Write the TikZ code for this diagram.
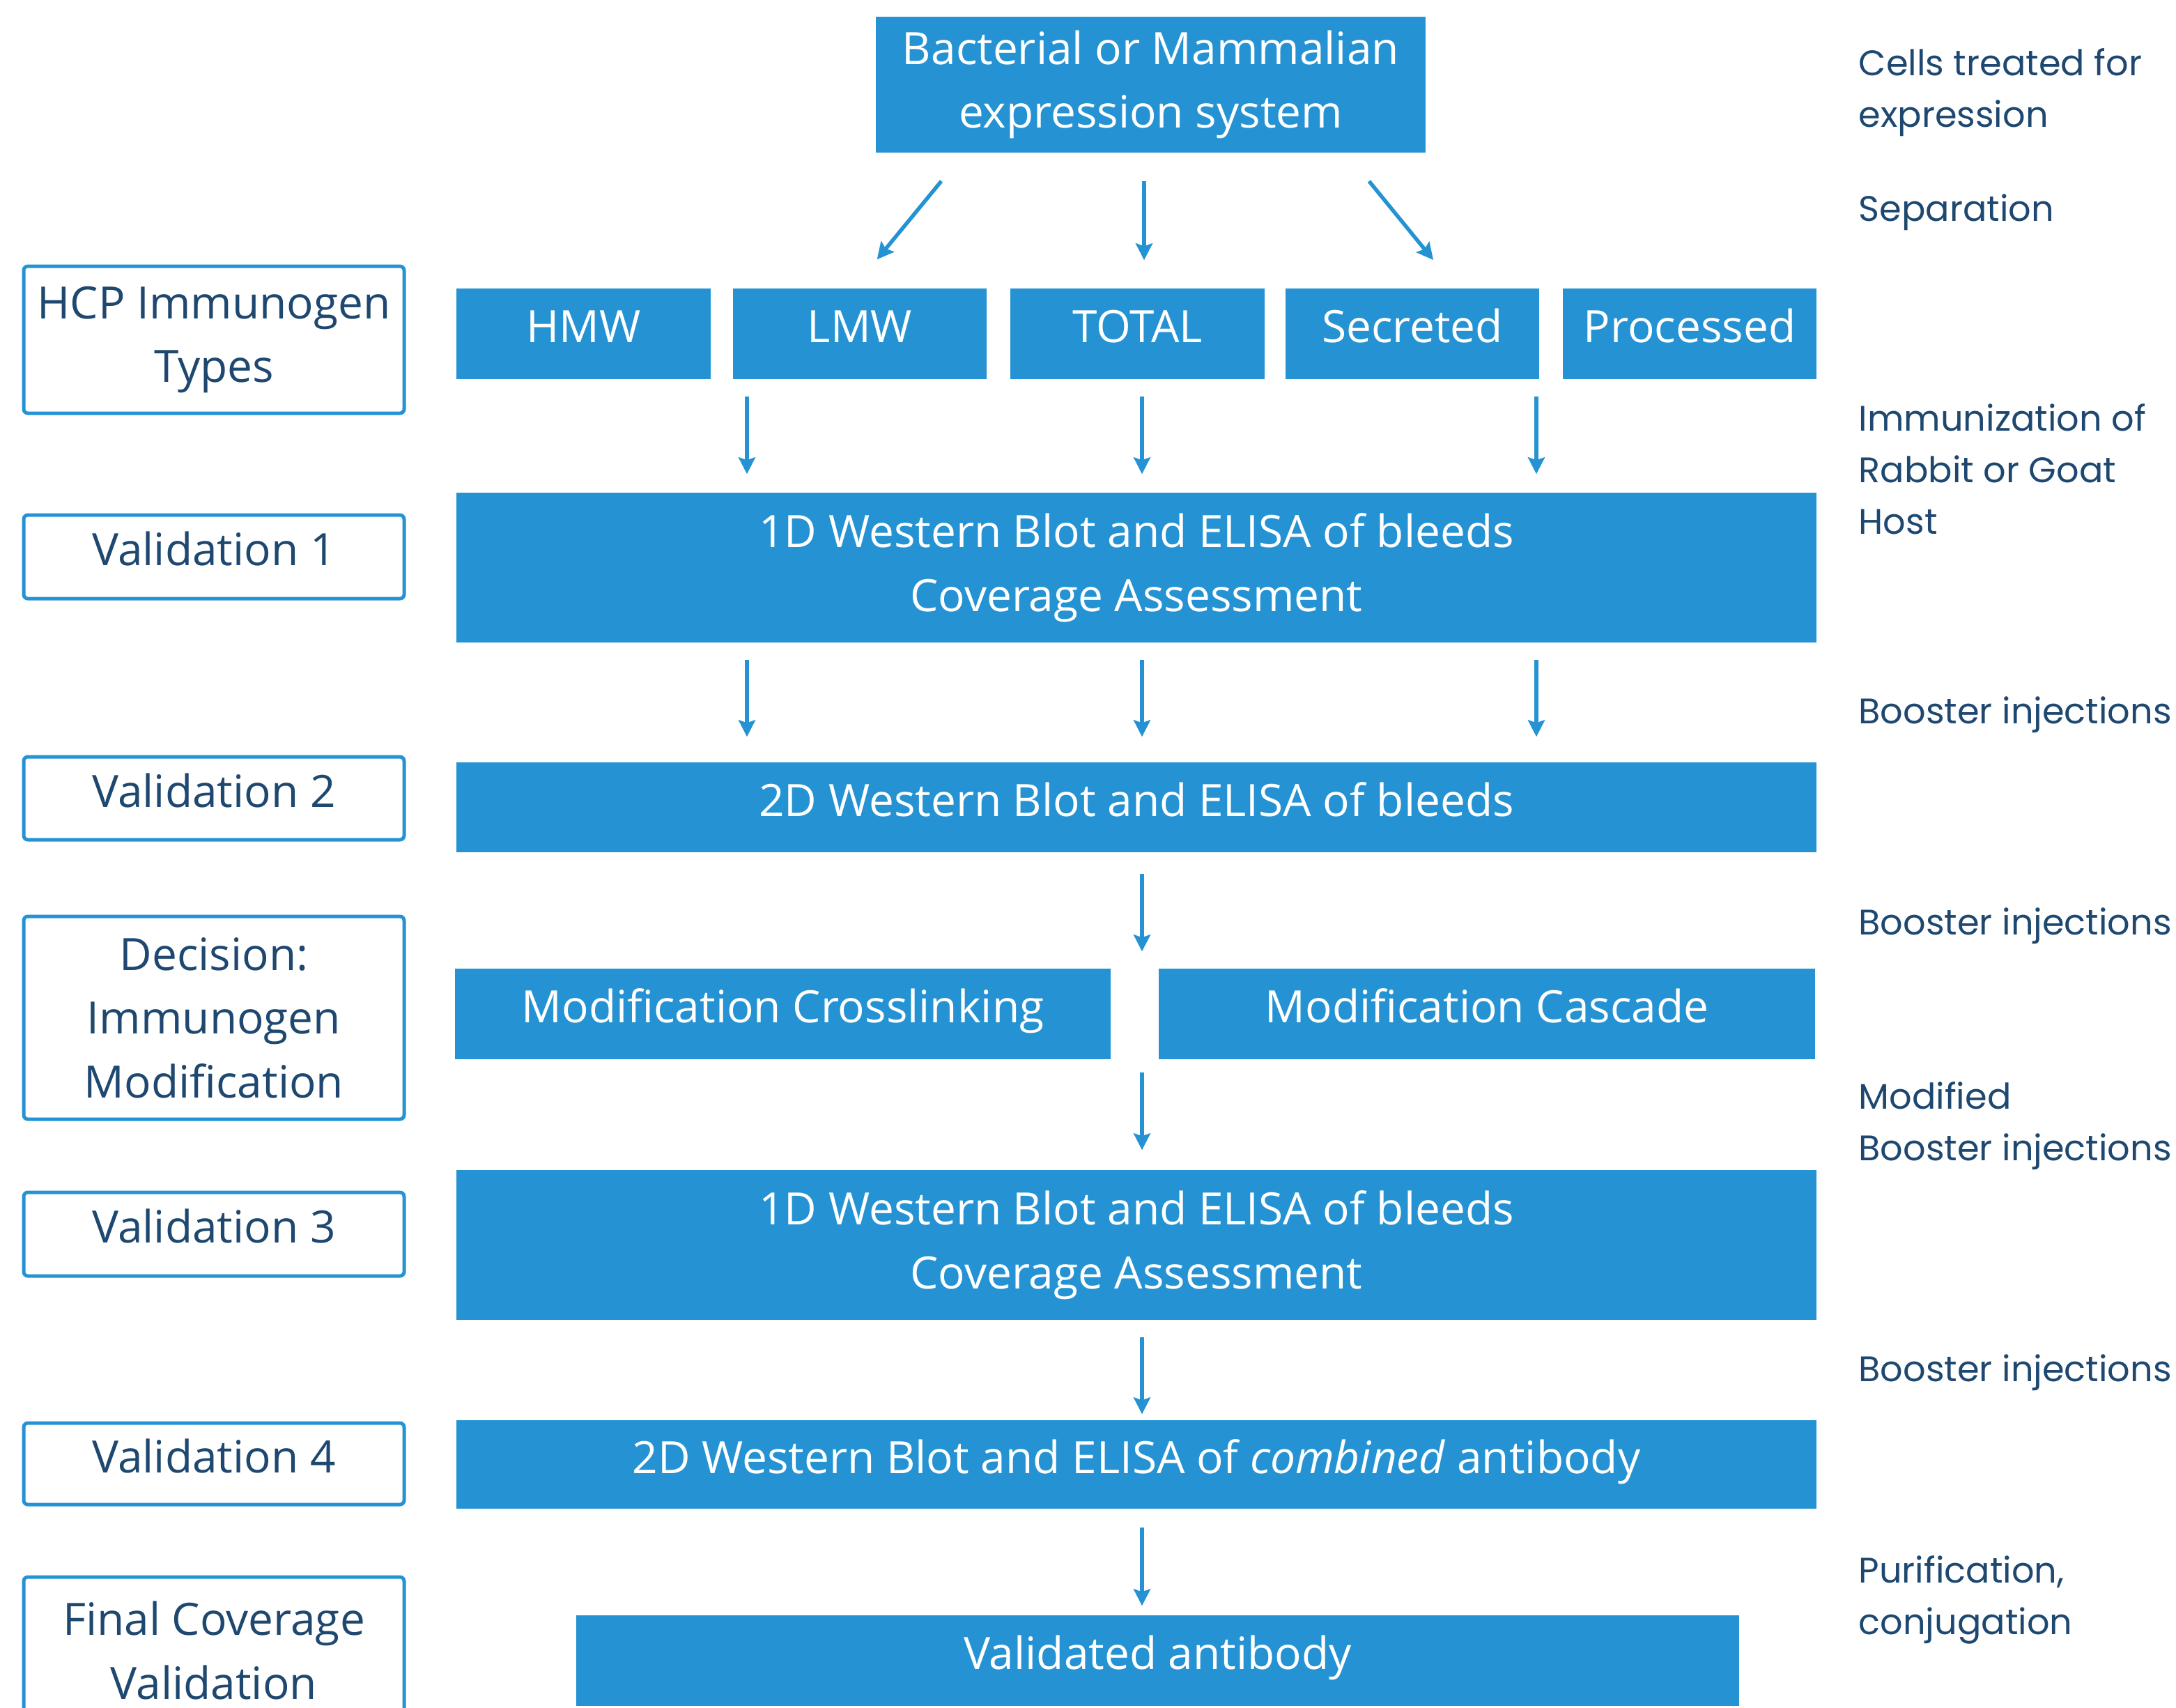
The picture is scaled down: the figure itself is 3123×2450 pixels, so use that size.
\documentclass[tikz,border=0pt]{standalone}
\usepackage{fontspec}
\setmainfont{Open Sans}
\newfontfamily\notefont{Poppins}
\usetikzlibrary{arrows.meta}

\definecolor{hcpblue}{RGB}{37,147,211}
\definecolor{hcpnavy}{RGB}{30,72,112}

\tikzset{
  stage/.style={rectangle, fill=hcpblue, text=white, align=center, inner sep=0pt,
    font=\fontsize{18.2}{26}\selectfont},
  check/.style={rectangle, draw=hcpblue, line width=0.5mm, rounded corners=0.6mm, fill=white,
    text=hcpnavy, align=center, inner sep=0pt, minimum width=54.6mm,
    font=\fontsize{18.2}{26}\selectfont},
  oneline/.style={text height=13.6pt, text depth=6.4pt},
  note/.style={anchor=west, align=left, text=hcpnavy, inner sep=0pt,
    font=\notefont\fontsize{14.5}{21}\selectfont},
  arr/.style={draw=hcpblue, line width=0.55mm, -{Stealth[length=2.4mm, width=2.4mm, inset=0.4mm]}},
}

\begin{document}
\begin{tikzpicture}[x=0.1mm, y=-0.1mm]
\useasboundingbox (0,0) rectangle (3123,2450);
\clip (0,0) rectangle (3123,2450);

% main flow
\node[stage, minimum width=78.9mm, minimum height=19.5mm] (expr) at (1651.5,121.5) {Bacterial or Mammalian\\expression system};

\node[stage, oneline, minimum width=36.5mm, minimum height=13mm] (hmw) at (837.5,479) {HMW};
\node[stage, oneline, minimum width=36.4mm, minimum height=13mm] (lmw) at (1234,479) {LMW};
\node[stage, oneline, minimum width=36.5mm, minimum height=13mm] (total) at (1632.5,479) {TOTAL};
\node[stage, oneline, minimum width=36.4mm, minimum height=13mm] (secreted) at (2027,479) {Secreted};
\node[stage, oneline, minimum width=36.4mm, minimum height=13mm] (processed) at (2425,479) {Processed};

\node[stage, minimum width=195.2mm, minimum height=21.5mm] (wb1) at (1631,814.5) {1D Western Blot and ELISA of bleeds\\Coverage Assessment};
\node[stage, oneline, minimum width=195.2mm, minimum height=12.9mm] (wb2) at (1631,1158.5) {2D Western Blot and ELISA of bleeds};

\node[stage, oneline, minimum width=94.1mm, minimum height=13mm] (crosslink) at (1123.5,1455) {Modification Crosslinking};
\node[stage, oneline, minimum width=94.2mm, minimum height=13mm] (cascade) at (2134,1455) {Modification Cascade};

\node[stage, minimum width=195.2mm, minimum height=21.5mm] (wb3) at (1631,1786.5) {1D Western Blot and ELISA of bleeds\\Coverage Assessment};
\node[stage, oneline, minimum width=195.2mm, minimum height=12.7mm] (combined) at (1631,2101.5) {2D Western Blot and ELISA of \textit{combined} antibody};
\node[stage, oneline, minimum width=166.9mm, minimum height=13mm] (validated) at (1661.5,2383) {Validated antibody};

% arrows
\draw[arr, shorten <=5.2mm, shorten >=5.3mm] (1384,0 |- expr.south) -- (1225,0 |- lmw.north);
\draw[arr, shorten <=4mm, shorten >=4mm] (1642,0 |- expr.south) -- (1642,0 |- total.north);
\draw[arr, shorten <=5.2mm, shorten >=5.2mm] (1932,0 |- expr.south) -- (2090,0 |- secreted.north);

\foreach \xa in {1072,1639,2205} {
  \draw[arr, shorten <=2.4mm, shorten >=2.6mm] (\xa,0 |- lmw.south) -- (\xa,0 |- wb1.north);
  \draw[arr, shorten <=2.4mm, shorten >=3.6mm] (\xa,0 |- wb1.south) -- (\xa,0 |- wb2.north);
}
\draw[arr, shorten <=3mm, shorten >=2.4mm] (1639,0 |- wb2.south) -- (1639,0 |- cascade.north);
\draw[arr, shorten <=1.8mm, shorten >=2.8mm] (1639,0 |- cascade.south) -- (1639,0 |- wb3.north);
\draw[arr, shorten <=2.4mm, shorten >=0.8mm] (1639,0 |- wb3.south) -- (1639,0 |- combined.north);
\draw[arr, shorten <=2.6mm, shorten >=1.3mm] (1639,0 |- combined.south) -- (1639,0 |- validated.north);

% validation column
\node[check, minimum height=21.1mm] (types) at (307,487.5) {HCP Immunogen\\Types};
\node[check, oneline, minimum height=12mm] (val1) at (307,799) {Validation 1};
\node[check, oneline, minimum height=11.9mm] (val2) at (307,1145.5) {Validation 2};
\node[check, minimum height=29.1mm] (decision) at (307,1460.5) {Decision:\\Immunogen\\Modification};
\node[check, oneline, minimum height=12mm] (val3) at (307,1771) {Validation 3};
\node[check, oneline, minimum height=11.7mm] (val4) at (307,2100.5) {Validation 4};
\node[check, minimum height=21.1mm] (final) at (307,2368.5) {Final Coverage\\Validation};

% step notes
\node[note] (cells) at (2667,133) {Cells treated for\\expression};
\node[note] (separation) at (2667,305) {Separation};
\node[note] (immun) at (2667,673) {Immunization of\\Rabbit or Goat\\Host};
\node[note] (boost1) at (2667,1026) {Booster injections};
\node[note] (boost2) at (2667,1329) {Booster injections};
\node[note] (modboost) at (2667,1616) {Modified\\Booster injections};
\node[note] (boost3) at (2667,1970) {Booster injections};
\node[note] (purif) at (2667,2296) {Purification,\\conjugation};
\end{tikzpicture}
\end{document}
